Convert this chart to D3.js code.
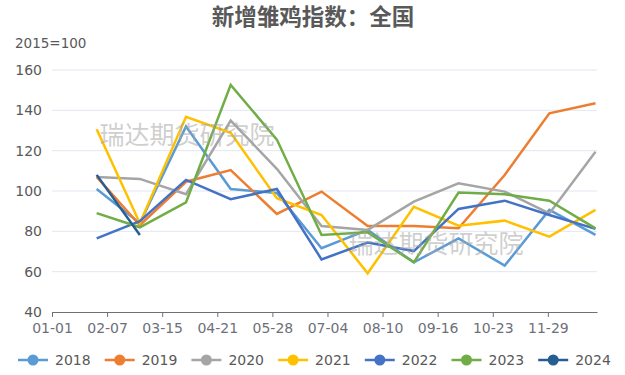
<!DOCTYPE html>
<html><head><meta charset="utf-8">
<script src="https://cdn.jsdelivr.net/npm/d3@7"></script>
<style>body{margin:0;background:#fff}svg{display:block}</style>
</head><body>
<script>
const title = "新增雏鸡指数：全国";
const unitLabel = "2015=100";
const years = ["2018","2019","2020","2021","2022","2023","2024"];
const colors = ["#5b9bd5","#ed7d31","#a5a5a5","#ffc000","#4472c4","#70ad47","#255e91"];
// day-of-year offsets of each month end (leap-year calendar axis)
const monthEnds = [30,59,90,120,151,181,212,243,273,304,334,365];
const s2018 = [101,84,132,101,99,71.6,80.7,64.6,76.5,63,90.6,78.2];
const s2019 = [107,83,104.6,110.4,88.6,99.7,82.6,82.6,81.5,107.9,138.5,143.5];
const s2020 = [107,106,98.4,134.9,111,82.6,80.7,94.7,103.8,99.7,88.9,119.5];
const s2021 = [130.6,84,136.8,128.9,96.4,88.1,59.2,92.2,82.8,85.3,77.4,90.6];
const s2022 = [76.5,85,105.5,95.9,101,66.1,74.4,70.2,91.1,95.2,88.1,81.2];
const s2023 = [89,82,94.4,152.6,125.5,78.2,79.5,64.6,99.2,98.4,95.2,81.5];
const s2024 = [108,78.2];
const seriesValues = [s2018,s2019,s2020,s2021,s2022,s2023,s2024];
const xTickDays = [0,37,74,111,148,185,222,259,296,333];
const yTicks = [40,60,80,100,120,140,160];
const watermark = "瑞达期货研究院";

const W=625,H=375;
const svg=d3.select("body").append("svg").attr("width",W).attr("height",H);
const x=d3.scaleLinear().domain([0,366]).range([52,597]);
const y=d3.scaleLinear().domain([40,160]).range([312,70]);
const fmt=d=>d3.timeFormat("%m-%d")(d3.timeDay.offset(new Date(2000,0,1),d));

svg.append("text").attr("x",313).attr("y",25).attr("text-anchor","middle")
  .attr("font-family","Noto Sans CJK SC").attr("font-weight","bold").attr("font-size",22.5)
  .attr("fill","#595959").text(title);
svg.append("text").attr("x",15).attr("y",48)
  .attr("font-family","DejaVu Sans").attr("font-size",13.5).attr("fill","#595959").text(unitLabel);

// grid
svg.append("g").selectAll("line").data(yTicks.filter(t=>t>40)).join("line")
  .attr("x1",52).attr("x2",597).attr("y1",d=>y(d)).attr("y2",d=>y(d))
  .attr("stroke","#e0e6f1").attr("stroke-width",1);

// y axis labels
const ya=svg.append("g").attr("transform","translate(52,0)")
  .call(d3.axisLeft(y).tickValues(yTicks).tickSize(0).tickPadding(10));
ya.select(".domain").remove();
ya.selectAll("text").attr("font-family","DejaVu Sans").attr("font-size",14).attr("fill","#595959");

// x axis
const xa=svg.append("g").attr("transform","translate(0,312)")
  .call(d3.axisBottom(x).tickValues(xTickDays).tickFormat(fmt).tickSize(5).tickSizeOuter(0).tickPadding(6));
xa.select(".domain").attr("stroke","#6e7079");
xa.selectAll(".tick line").attr("stroke","#6e7079");
xa.selectAll("text").attr("font-family","DejaVu Sans").attr("font-size",14).attr("fill","#6e7079");

// lines
const line=d3.line().x((d,i)=>x(monthEnds[i])).y(d=>y(d));
svg.append("g").selectAll("path").data(seriesValues).join("path")
  .attr("d",d=>line(d)).attr("fill","none").attr("stroke",(d,i)=>colors[i])
  .attr("stroke-width",2.5).attr("stroke-linejoin","miter");

// watermarks
[[187,133],[436,242]].forEach(p=>{
  svg.append("text").attr("x",p[0]).attr("y",p[1]).attr("text-anchor","middle")
    .attr("dominant-baseline","central").attr("font-family","Noto Sans CJK SC")
    .attr("font-size",25).attr("fill","#a6a6a6").attr("fill-opacity",0.55).text(watermark);
});

// legend
const lg=svg.append("g").selectAll("g").data(years).join("g")
  .attr("transform",(d,i)=>`translate(${18+i*86.7},360)`);
lg.append("line").attr("x1",0).attr("x2",30).attr("stroke",(d,i)=>colors[i]).attr("stroke-width",2.5);
lg.append("circle").attr("cx",15).attr("r",5.5).attr("fill",(d,i)=>colors[i]);
lg.append("text").attr("x",37).attr("dy","0.35em").attr("font-family","DejaVu Sans")
  .attr("font-size",14).attr("fill","#595959").text(d=>d);
</script>
</body></html>
